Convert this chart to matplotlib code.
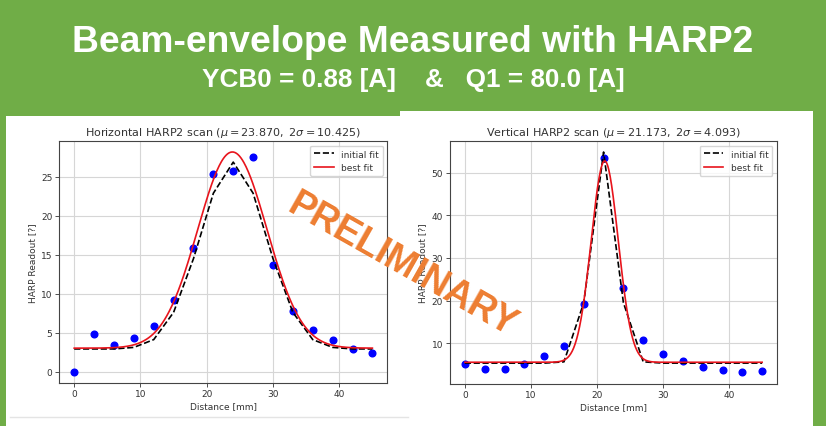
import numpy as np
import matplotlib
matplotlib.use("Agg")
import matplotlib.pyplot as plt
from matplotlib.patches import Rectangle

# ---------------- data ----------------
distance = [0, 3, 6, 9, 12, 15, 18, 21, 24, 27, 30, 33, 36, 39, 42, 45]

h_readout = [0.0, 4.8, 3.4, 4.3, 5.8, 9.2, 15.9, 25.4, 25.8, 27.6, 13.7, 7.8, 5.3, 4.1, 2.9, 2.4]
h_initial = [2.9, 2.9, 2.9, 3.1, 4.1, 7.6, 14.5, 22.9, 26.9, 22.9, 14.5, 7.6, 4.1, 3.1, 2.9, 2.9]
h_best = dict(amp=25.2, mu=23.870, sigma=10.425 / 2, offset=3.0)

v_readout = [5.1, 3.9, 3.9, 5.1, 7.0, 9.4, 19.1, 53.4, 23.0, 10.8, 7.4, 5.7, 4.3, 3.7, 3.1, 3.4]
v_initial = [5.3, 5.3, 5.3, 5.3, 5.3, 5.6, 19.5, 54.9, 19.5, 5.6, 5.3, 5.3, 5.3, 5.3, 5.3, 5.3]
v_best = dict(amp=47.3, mu=21.173, sigma=4.093 / 2, offset=5.5)

GREEN = "#70AD47"
ORANGE = "#ED7D31"

plt.rcParams['font.family'] = ['DejaVu Sans']

fig = plt.figure(figsize=(8.26, 4.27), dpi=100, facecolor=GREEN)
W, H = 826, 427

def fx(px):
    return px / W

def fy(py):
    return 1 - py / H

# white panels (behind the axes)
fig.patches.append(Rectangle((fx(6), 0), fx(410) - fx(6), fy(117), transform=fig.transFigure,
                             facecolor="white", edgecolor="none", zorder=-10))
fig.patches.append(Rectangle((fx(400), 0), fx(813) - fx(400), fy(112), transform=fig.transFigure,
                             facecolor="white", edgecolor="none", zorder=-10))
fig.lines.append(plt.Line2D([fx(10), fx(408)], [fy(418), fy(418)], transform=fig.transFigure,
                            color="#e4e4e4", lw=1, zorder=-9))

# headings
fig.text(0.5, fy(42), "Beam-envelope Measured with HARP2", ha="center", va="center",
         color="white", fontsize=26.8, fontweight="bold",
         family=["Liberation Sans", "DejaVu Sans"])
fig.text(0.5, fy(79.5), "YCB0 = 0.88 [A]    &   Q1 = 80.0 [A]", ha="center", va="center",
         color="white", fontsize=18.8, fontweight="bold",
         family=["Liberation Sans", "DejaVu Sans"])


def gauss(x, p):
    x = np.asarray(x, dtype=float)
    return p["offset"] + p["amp"] * np.exp(-(x - p["mu"]) ** 2 / (2 * p["sigma"] ** 2))


def panel(rect, readout, initial, best, title, yticks):
    ax = fig.add_axes(rect)
    ax.set_facecolor("white")
    xs = np.linspace(min(distance), max(distance), 400)
    ax.plot(distance, readout, "o", color="blue", ms=4.8, zorder=3)
    ax.plot(distance, initial, "--", color="black", lw=1.2, label="initial fit", zorder=4)
    ax.plot(xs, gauss(xs, best), "-", color="#e8141c", lw=1.2, label="best fit", zorder=5)
    ax.grid(True, color="#d6d6d6", lw=0.8)
    ax.set_axisbelow(True)
    ax.set_title(title, fontsize=8, color="#333333", pad=4)
    ax.set_xlabel("Distance [mm]", fontsize=6.5, color="#333333", labelpad=2)
    ax.set_ylabel("HARP Readout [?]", fontsize=6.5, color="#333333", labelpad=3)
    ax.set_xticks([0, 10, 20, 30, 40])
    ax.set_yticks(yticks)
    ax.tick_params(labelsize=6.5, colors="#333333", length=3, width=0.6, pad=2)
    for s in ax.spines.values():
        s.set_color("#444444")
        s.set_linewidth(0.8)
    leg = ax.legend(loc="upper right", fontsize=6.5, frameon=True, fancybox=True,
                    handlelength=2.2, borderpad=0.45, labelspacing=0.5)
    leg.get_frame().set_edgecolor("#cccccc")
    for t in leg.get_texts():
        t.set_color("#333333")
    return ax


panel([fx(59.3), fy(383.5), fx(387.3) - fx(59.3), fy(142) - fy(383.5)],
      h_readout, h_initial, h_best,
      r"Horizontal HARP2 scan ($\mu = 23.870,\ 2\sigma = 10.425$)", [0, 5, 10, 15, 20, 25])
panel([fx(450), fy(384.5), fx(777) - fx(450), fy(142) - fy(384.5)],
      v_readout, v_initial, v_best,
      r"Vertical HARP2 scan ($\mu = 21.173,\ 2\sigma = 4.093$)", [10, 20, 30, 40, 50])

fig.text(fx(402), fy(265), "PRELIMINARY", ha="center", va="center", rotation=-29.5,
         color=ORANGE, fontsize=27, fontweight="bold",
         family=["Liberation Sans", "DejaVu Sans"], zorder=10)

fig.savefig("out.png", dpi=100, facecolor=GREEN)
